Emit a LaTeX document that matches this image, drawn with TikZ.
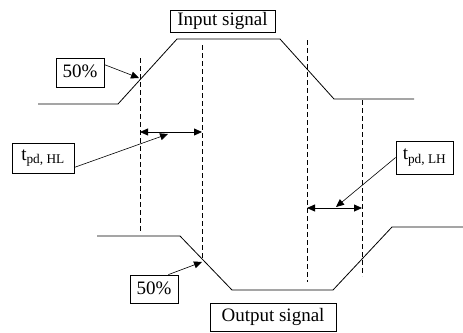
\documentclass[tikz,border=0pt]{standalone}
\usepackage{fontspec}
\setmainfont{Liberation Serif}
\usetikzlibrary{arrows.meta,positioning}

\begin{document}
\begin{tikzpicture}[x=1pt, y=-1pt, wave/.style = {line width=0.8pt}, guide/.style = {line width=0.8pt, dash pattern=on 5pt off 3pt},
		lbl/.style = {draw, line width=0.8pt, inner sep=0pt, font=\fontsize{19}{22}\selectfont},
		delay/.style = {line width=0.8pt, {Triangle[length=8pt,width=7pt]}-{Triangle[length=8pt,width=7pt]}},
		pointer/.style = {line width=0.6pt, -{Triangle[length=8pt,width=7pt]}}]
	\useasboundingbox (0,0) rectangle (463,332);
	% waveforms
	\draw [wave] (38,104) -- (118,104) -- (177,39) -- (280,39) -- (334,99) -- (414,99);
	\draw [wave] (97,236) -- (180,236) -- (232,290) -- (333,290) -- (392,227) -- (463,227);
	% guides
	\draw [guide] (140,58) -- (140,232);
	\draw [guide] (202,45) -- (202,260);
	\draw [guide] (307,40) -- (307,282);
	\draw [guide] (362,100) -- (362,276);
	% delays
	\coordinate (hlA) at (140,132);
	\coordinate (hlB) at (202,132);
	\coordinate (lhA) at (307,208);
	\coordinate (lhB) at (362,208);
	\draw [delay] (hlA) -- (hlB);
	\draw [delay] (lhA) -- (lhB);
	% labels
	\node [lbl, minimum width=105pt, minimum height=22pt] (insig) at (222.5,21) {Input signal};
	\node [lbl, minimum width=126pt, minimum height=28pt] (outsig) at (273,317) {Output signal};
	\node [lbl, minimum width=48pt, minimum height=29pt, text depth=0pt, text height=10pt] (halfin) at (80,72.5) {50\%};
	\node [lbl, minimum width=48pt, minimum height=28pt, text depth=0pt, text height=10pt] (halfout) at (154,289) {50\%};
	\node [lbl, minimum width=62pt, minimum height=30pt] (thl) at (43,158) {t\textsubscript{pd, HL}};
	\node [lbl, minimum width=57pt, minimum height=33pt] (tlh) at (424.5,157.5) {t\textsubscript{pd, LH}};
	% pointers
	\coordinate (crossin) at (139,78);
	\coordinate (crossout) at (202,262);
	\coordinate (hlmid) at (168,134);
	\coordinate (lhmid) at (336,207);
	\draw [pointer] ([yshift=-7pt]halfin.north east) -- (crossin);
	\draw [pointer] ([xshift=-10pt]halfout.north east) -- (crossout);
	\draw [pointer] ([yshift=6pt]thl.south east) -- (hlmid);
	\draw [pointer] (tlh.west) -- (lhmid);
\end{tikzpicture}
\end{document}
